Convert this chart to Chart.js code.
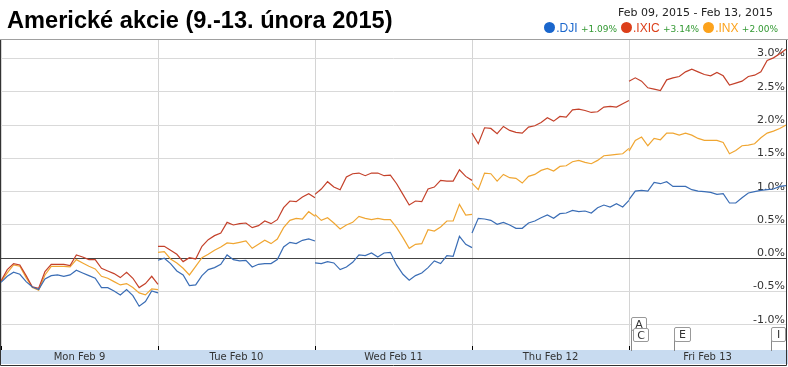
<!DOCTYPE html>
<html>
<head>
<meta charset="utf-8">
<script src="https://cdn.jsdelivr.net/npm/chart.js@4.4.1/dist/chart.umd.min.js"></script>
<style>
    body { margin: 0; background: #fff; }
    #wrap { position: relative; width: 788px; height: 367px; overflow: hidden; }
    #title {
        position: absolute; left: 7px; top: 8px;
        font: bold 23.6px/24px "Liberation Sans", Arial, sans-serif; color: #000;
    }
    #range {
        position: absolute; right: 15px; top: 7px;
        font: 11px/11px "DejaVu Sans", Verdana, sans-serif; color: #222;
        white-space: pre;
    }
    #legend {
        position: absolute; right: 6px; top: 21px;
        font: 12px/14px "Liberation Sans", Arial, sans-serif; white-space: nowrap;
    }
    #legend .dot {
        display: inline-block; width: 11px; height: 11px; border-radius: 50%;
        vertical-align: -1px; margin-right: 1px;
    }
    #legend .pct { font: 9px "DejaVu Sans", Verdana, sans-serif; color: #339933; margin-right: 4px; }
    .flag {
        position: absolute; background: #fff; border: 1px solid #999;
        border-radius: 2px; box-sizing: border-box; text-align: center;
        font: 11px/13px "DejaVu Sans", Verdana, sans-serif; color: #333;
    }
    .stem { position: absolute; width: 1px; background: #888; }
</style>
</head>
<body>
<div id="wrap">
    <canvas id="chart" width="788" height="367"></canvas>
    <div id="title">Americké akcie (9.-13. února 2015)</div>
    <div id="range">Feb 09, 2015 - Feb 13, 2015</div>
    <div id="legend"></div>
    <div class="stem" style="left:631px;top:328px;height:23px"></div>
    <div class="stem" style="left:674px;top:340px;height:11px"></div>
    <div class="stem" style="left:771px;top:340px;height:11px"></div>
    <div class="flag" style="left:631px;top:317px;width:16px;height:14px">A</div>
    <div class="flag" style="left:633px;top:328px;width:16px;height:14px">C</div>
    <div class="flag" style="left:674px;top:327px;width:17px;height:15px">E</div>
    <div class="flag" style="left:771px;top:327px;width:15px;height:15px">I</div>
</div>
<script>
// trading days and axis ticks
const dayLabels = ['Mon Feb 9', 'Tue Feb 10', 'Wed Feb 11', 'Thu Feb 12', 'Fri Feb 13'];
const dayCenters = [0.5, 1.5, 2.5, 3.5, 4.5];
const dayBounds = [0, 1, 2, 3, 4, 5];
const yTicks = [-1, -0.5, 0, 0.5, 1, 1.5, 2, 2.5, 3];

// % change from Feb 9 open, one row per trading day
const dji = [
    [-0.36,-0.27,-0.21,-0.24,-0.35,-0.43,-0.47,-0.31,-0.26,-0.25,-0.27,-0.25,-0.18,-0.22,-0.26,-0.30,-0.44,-0.44,-0.49,-0.55,-0.47,-0.56,-0.72,-0.65,-0.49,-0.52],
    [-0.03,0.00,-0.08,-0.19,-0.25,-0.41,-0.40,-0.26,-0.17,-0.14,-0.09,0.05,-0.02,-0.04,-0.03,-0.13,-0.09,-0.08,-0.08,-0.02,0.17,0.24,0.22,0.27,0.29,0.26],
    [-0.07,-0.08,-0.05,-0.07,-0.17,-0.13,-0.06,0.05,0.04,0.08,0.02,0.08,0.09,-0.10,-0.24,-0.33,-0.26,-0.22,-0.14,-0.04,-0.08,0.04,0.03,0.33,0.21,0.16],
    [0.38,0.60,0.59,0.57,0.51,0.54,0.50,0.45,0.45,0.53,0.56,0.61,0.65,0.60,0.67,0.68,0.72,0.70,0.71,0.68,0.76,0.80,0.77,0.82,0.77,0.87],
    [0.88,1.01,1.02,1.01,1.14,1.12,1.15,1.08,1.08,1.08,1.03,1.01,1.00,0.99,0.96,0.97,0.83,0.83,0.91,0.98,1.00,1.02,1.03,1.04,1.08,1.09]
];
const ixic = [
    [-0.34,-0.17,-0.08,-0.10,-0.26,-0.43,-0.45,-0.20,-0.09,-0.09,-0.09,-0.11,0.05,0.02,-0.02,-0.02,-0.15,-0.19,-0.23,-0.29,-0.21,-0.30,-0.44,-0.38,-0.27,-0.39],
    [0.18,0.18,0.12,0.06,-0.05,0.01,-0.01,0.18,0.28,0.34,0.38,0.54,0.50,0.52,0.53,0.46,0.49,0.56,0.52,0.58,0.76,0.86,0.85,0.92,0.97,0.91],
    [0.96,1.04,1.15,1.07,1.03,1.22,1.27,1.28,1.24,1.28,1.28,1.24,1.25,1.12,0.96,0.80,0.86,0.85,1.04,1.07,1.17,1.16,1.16,1.33,1.23,1.17],
    [1.88,1.72,1.96,1.95,1.87,1.98,1.92,1.89,1.88,1.97,1.99,2.04,2.11,2.06,2.13,2.12,2.23,2.24,2.22,2.19,2.20,2.27,2.28,2.27,2.32,2.37],
    [2.66,2.71,2.66,2.56,2.54,2.52,2.68,2.71,2.73,2.80,2.84,2.80,2.76,2.74,2.79,2.74,2.60,2.63,2.66,2.73,2.75,2.80,2.97,3.01,3.07,3.14]
];
const inx = [
    [-0.35,-0.22,-0.10,-0.12,-0.29,-0.44,-0.48,-0.25,-0.12,-0.12,-0.12,-0.13,-0.02,-0.07,-0.12,-0.16,-0.27,-0.30,-0.35,-0.40,-0.38,-0.44,-0.52,-0.55,-0.46,-0.47],
    [0.09,0.10,-0.01,-0.07,-0.15,-0.25,-0.12,0.01,0.06,0.12,0.17,0.23,0.22,0.24,0.26,0.15,0.21,0.27,0.22,0.29,0.46,0.57,0.60,0.59,0.70,0.63],
    [0.66,0.57,0.61,0.53,0.44,0.50,0.54,0.63,0.60,0.58,0.60,0.58,0.58,0.46,0.31,0.15,0.21,0.22,0.43,0.41,0.47,0.56,0.56,0.81,0.65,0.66],
    [1.13,1.03,1.28,1.27,1.16,1.26,1.21,1.20,1.13,1.23,1.26,1.32,1.35,1.31,1.38,1.39,1.45,1.47,1.44,1.42,1.47,1.54,1.55,1.56,1.57,1.65],
    [1.61,1.77,1.82,1.69,1.80,1.78,1.88,1.88,1.85,1.88,1.85,1.80,1.77,1.77,1.77,1.74,1.57,1.62,1.69,1.70,1.72,1.81,1.88,1.91,1.95,2.00]
];

const series = [
    { name: '.DJI', change: '+1.09%', days: dji, line: '#3a6db5', dot: '#1a66cc' },
    { name: '.IXIC', change: '+3.14%', days: ixic, line: '#c4412a', dot: '#dc3f1a' },
    { name: '.INX', change: '+2.00%', days: inx, line: '#f0a632', dot: '#fca21c' }
];

// each day spreads over [d, d+1]; a null point breaks the line between days
function toPoints(days) {
    const pts = [];
    days.forEach((vals, d) => {
        vals.forEach((v, k) => pts.push({ x: d + k / (vals.length - 1), y: v }));
        if (d < days.length - 1) pts.push({ x: d + 1, y: null });
    });
    return pts;
}

// header legend
const legend = document.getElementById('legend');
series.forEach(s => {
    legend.insertAdjacentHTML('beforeend',
        `<span class="dot" style="background:${s.dot}"></span>` +
        `<span style="color:${s.dot}">${s.name}</span> ` +
        `<span class="pct">${s.change}</span>`);
});

const frame = {
    id: 'frame',
    beforeDraw: (chart) => {
        const ctx = chart.ctx;
        const band = chart.scales.days;
        ctx.save();
        ctx.fillStyle = '#c8dbf0';
        ctx.fillRect(0, band.top, chart.width, band.bottom - band.top);
        ctx.restore();
    },
    afterDraw: (chart) => {
        const ctx = chart.ctx;
        const a = chart.chartArea;
        ctx.save();
        ctx.lineWidth = 1;
        ctx.strokeStyle = '#a0a0a0';
        ctx.beginPath();
        ctx.moveTo(0, a.top - 0.5);
        ctx.lineTo(chart.width, a.top - 0.5);
        ctx.stroke();
        ctx.strokeStyle = '#333';
        ctx.beginPath();
        ctx.moveTo(0.5, a.top);
        ctx.lineTo(0.5, chart.height - 1.5);
        ctx.lineTo(chart.width - 1.5, chart.height - 1.5);
        ctx.lineTo(chart.width - 1.5, a.top);
        ctx.stroke();
        ctx.restore();
    }
};

new Chart(document.getElementById('chart'), {
    type: 'line',
    data: {
        datasets: series.map(s => ({
            label: s.name,
            data: toPoints(s.days),
            borderColor: s.line,
            borderWidth: 1.2,
            pointRadius: 0,
            tension: 0,
            spanGaps: false
        }))
    },
    options: {
        responsive: false,
        animation: false,
        devicePixelRatio: 1,
        layout: { padding: { top: 40, left: 1, right: 2, bottom: 3 } },
        plugins: {
            legend: { display: false },
            tooltip: { enabled: false }
        },
        scales: {
            x: {
                type: 'linear',
                min: 0,
                max: 5,
                afterBuildTicks: axis => { axis.ticks = dayBounds.map(v => ({ value: v })); },
                ticks: { display: false },
                grid: { color: '#d4d4d4', tickLength: 4, tickColor: '#000' },
                border: { display: false }
            },
            days: {
                type: 'linear',
                position: 'bottom',
                min: 0,
                max: 5,
                afterBuildTicks: axis => { axis.ticks = dayCenters.map(v => ({ value: v })); },
                ticks: {
                    callback: (v, i) => dayLabels[i],
                    autoSkip: false,
                    maxRotation: 0,
                    padding: 1,
                    color: '#333',
                    font: { family: 'DejaVu Sans', size: 10 }
                },
                grid: { display: false, drawTicks: false },
                border: { display: false }
            },
            y: {
                position: 'right',
                min: -1.317,
                max: 3.278,
                afterBuildTicks: axis => { axis.ticks = yTicks.map(v => ({ value: v })); },
                // labels sit inside the plot, so the axis itself takes no room
                afterFit: axis => { axis.width = 0; },
                ticks: {
                    mirror: true,
                    padding: -1,
                    labelOffset: -5,
                    color: '#333',
                    font: { family: 'DejaVu Sans', size: 11 },
                    callback: v => v.toFixed(1) + '%'
                },
                grid: {
                    drawTicks: false,
                    color: ctx => ctx.tick.value === 0 ? '#444' : '#d9d9d9'
                },
                border: { display: false }
            }
        }
    },
    plugins: [frame]
});
</script>
</body>
</html>
